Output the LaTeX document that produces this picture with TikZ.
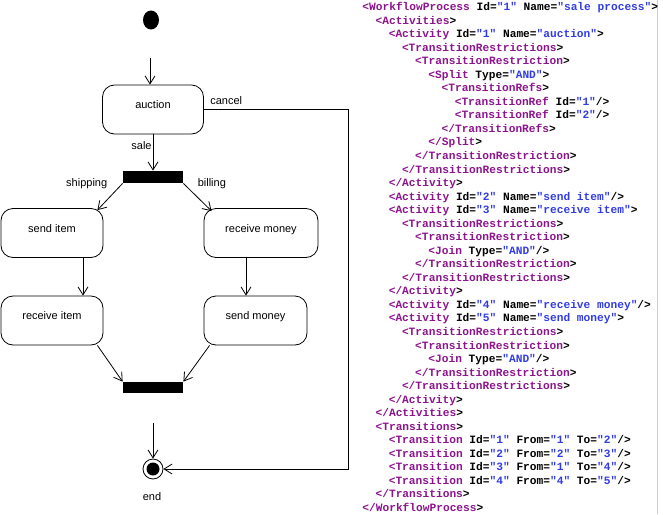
\documentclass[tikz,border=0pt]{standalone}
\usepackage{fontspec}
\setmainfont{Liberation Sans}
\newfontfamily\xmlfont{Liberation Mono}
\usetikzlibrary{arrows.meta,shapes.geometric}
\definecolor{xmltag}{RGB}{140,20,140}
\definecolor{xmlval}{RGB}{50,60,230}
\definecolor{paneedge}{RGB}{240,195,195}
\newcommand{\tg}[1]{\textcolor{xmltag}{#1}}
\newcommand{\vl}[1]{\textcolor{xmlval}{#1}}

\begin{document}
\begin{tikzpicture}[
  x=1pt, y=-1pt,
  activity/.style={draw, rounded corners=12pt, minimum height=49pt, inner sep=0pt, text height=6pt, text depth=8pt, font=\fontsize{11}{13}\selectfont},
  bar/.style={fill=black, minimum width=60pt, minimum height=12pt, inner sep=0pt},
  lbl/.style={font=\fontsize{11}{13}\selectfont, inner sep=1pt},
  xml/.style={anchor=base west, inner sep=0pt, font=\xmlfont\bfseries\fontsize{11.2}{13}\selectfont},
  line width=0.8pt,
  >={Straight Barb[length=8pt,width=10pt]}
]
\useasboundingbox (0,0) rectangle (663,514);
% activity diagram
\node[ellipse, fill=black, minimum width=16pt, minimum height=19pt, inner sep=0pt] (start) at (151,20) {};
\coordinate (in1) at (150,58);
\node[activity, minimum width=101pt] (auction) at (153,109.5) {auction};
\node[bar] (fork) at (153,177) {};
\node[activity, minimum width=102pt] (sendItem) at (52,233) {send item};
\node[activity, minimum width=114pt] (receiveMoney) at (261,233) {receive money};
\node[activity, minimum width=102pt] (receiveItem) at (52,320.5) {receive item};
\node[activity, minimum width=103pt] (sendMoney) at (255.5,320.5) {send money};
\node[bar, minimum height=11pt] (join) at (153,387.5) {};
\coordinate (in2) at (153,423);
\node[circle, draw, minimum size=20pt, inner sep=0pt] (endState) at (153,469) {};
\node[circle, fill=black, minimum size=13pt, inner sep=0pt] (endDot) at (endState) {};
\node[lbl] (endLbl) at (152,497) {end};
\coordinate (cancelTurn) at (348,469);

\draw[->] (in1) -- (in1 |- auction.north);
\draw[->] (auction) -- node[lbl, pos=0.3, left] (saleLbl) {sale} (fork);
\draw[->] (fork.south west) -- node[lbl, at start, left=14pt] (shipLbl) {shipping} ([xshift=-6pt,yshift=-2pt]sendItem.north east);
\draw[->] (fork.south east) -- node[lbl, at start, right=13pt] (billLbl) {billing} ([xshift=8pt,yshift=-3pt]receiveMoney.north west);
\draw[->] ([xshift=31pt]sendItem.south) -- ([xshift=31pt]receiveItem.north);
\draw[->] ([xshift=-15pt]receiveMoney.south) -- ([xshift=-9.5pt]sendMoney.north);
\draw[->] ([xshift=-6pt]receiveItem.south east) -- (join.north west);
\draw[->] ([xshift=6pt]sendMoney.south west) -- (join.north east);
\draw[->] (in2) -- (endState);
\draw[->] (auction.east) -| node[lbl, at start, above right, xshift=5pt, yshift=3pt] (cancelLbl) {cancel} (cancelTurn) -- (endState);

% xml listing
\draw[paneedge] (657,0) -- (657,514);
\node[xml] (x1) at (362,10.5) {\tg{<WorkflowProcess} Id=\vl{"1"} Name=\vl{"sale process"}>};
\node[xml] (x2) at (375.2,24.0) {\tg{<Activities}>};
\node[xml] (x3) at (388.4,37.6) {\tg{<Activity} Id=\vl{"1"} Name=\vl{"auction"}>};
\node[xml] (x4) at (401.6,51.1) {\tg{<TransitionRestrictions}>};
\node[xml] (x5) at (414.8,64.7) {\tg{<TransitionRestriction}>};
\node[xml] (x6) at (428,78.2) {\tg{<Split} Type=\vl{"AND"}>};
\node[xml] (x7) at (441.2,91.7) {\tg{<TransitionRefs}>};
\node[xml] (x8) at (454.4,105.3) {\tg{<TransitionRef} Id=\vl{"1"}/>};
\node[xml] (x9) at (454.4,118.8) {\tg{<TransitionRef} Id=\vl{"2"}/>};
\node[xml] (x10) at (441.2,132.4) {\tg{</TransitionRefs}>};
\node[xml] (x11) at (428,145.9) {\tg{</Split}>};
\node[xml] (x12) at (414.8,159.4) {\tg{</TransitionRestriction}>};
\node[xml] (x13) at (401.6,173.0) {\tg{</TransitionRestrictions}>};
\node[xml] (x14) at (388.4,186.5) {\tg{</Activity}>};
\node[xml] (x15) at (388.4,200.1) {\tg{<Activity} Id=\vl{"2"} Name=\vl{"send item"}/>};
\node[xml] (x16) at (388.4,213.6) {\tg{<Activity} Id=\vl{"3"} Name=\vl{"receive item"}>};
\node[xml] (x17) at (401.6,227.1) {\tg{<TransitionRestrictions}>};
\node[xml] (x18) at (414.8,240.7) {\tg{<TransitionRestriction}>};
\node[xml] (x19) at (428,254.2) {\tg{<Join} Type=\vl{"AND"}/>};
\node[xml] (x20) at (414.8,267.8) {\tg{</TransitionRestriction}>};
\node[xml] (x21) at (401.6,281.3) {\tg{</TransitionRestrictions}>};
\node[xml] (x22) at (388.4,294.8) {\tg{</Activity}>};
\node[xml] (x23) at (388.4,308.4) {\tg{<Activity} Id=\vl{"4"} Name=\vl{"receive money"}/>};
\node[xml] (x24) at (388.4,321.9) {\tg{<Activity} Id=\vl{"5"} Name=\vl{"send money"}>};
\node[xml] (x25) at (401.6,335.5) {\tg{<TransitionRestrictions}>};
\node[xml] (x26) at (414.8,349.0) {\tg{<TransitionRestriction}>};
\node[xml] (x27) at (428,362.5) {\tg{<Join} Type=\vl{"AND"}/>};
\node[xml] (x28) at (414.8,376.1) {\tg{</TransitionRestriction}>};
\node[xml] (x29) at (401.6,389.6) {\tg{</TransitionRestrictions}>};
\node[xml] (x30) at (388.4,403.2) {\tg{</Activity}>};
\node[xml] (x31) at (375.2,416.7) {\tg{</Activities}>};
\node[xml] (x32) at (375.2,430.2) {\tg{<Transitions}>};
\node[xml] (x33) at (388.4,443.8) {\tg{<Transition} Id=\vl{"1"} From=\vl{"1"} To=\vl{"2"}/>};
\node[xml] (x34) at (388.4,457.3) {\tg{<Transition} Id=\vl{"2"} From=\vl{"2"} To=\vl{"3"}/>};
\node[xml] (x35) at (388.4,470.9) {\tg{<Transition} Id=\vl{"3"} From=\vl{"1"} To=\vl{"4"}/>};
\node[xml] (x36) at (388.4,484.4) {\tg{<Transition} Id=\vl{"4"} From=\vl{"4"} To=\vl{"5"}/>};
\node[xml] (x37) at (375.2,497.9) {\tg{</Transitions}>};
\node[xml] (x38) at (362,511.5) {\tg{</WorkflowProcess}>};
\end{tikzpicture}
\end{document}
